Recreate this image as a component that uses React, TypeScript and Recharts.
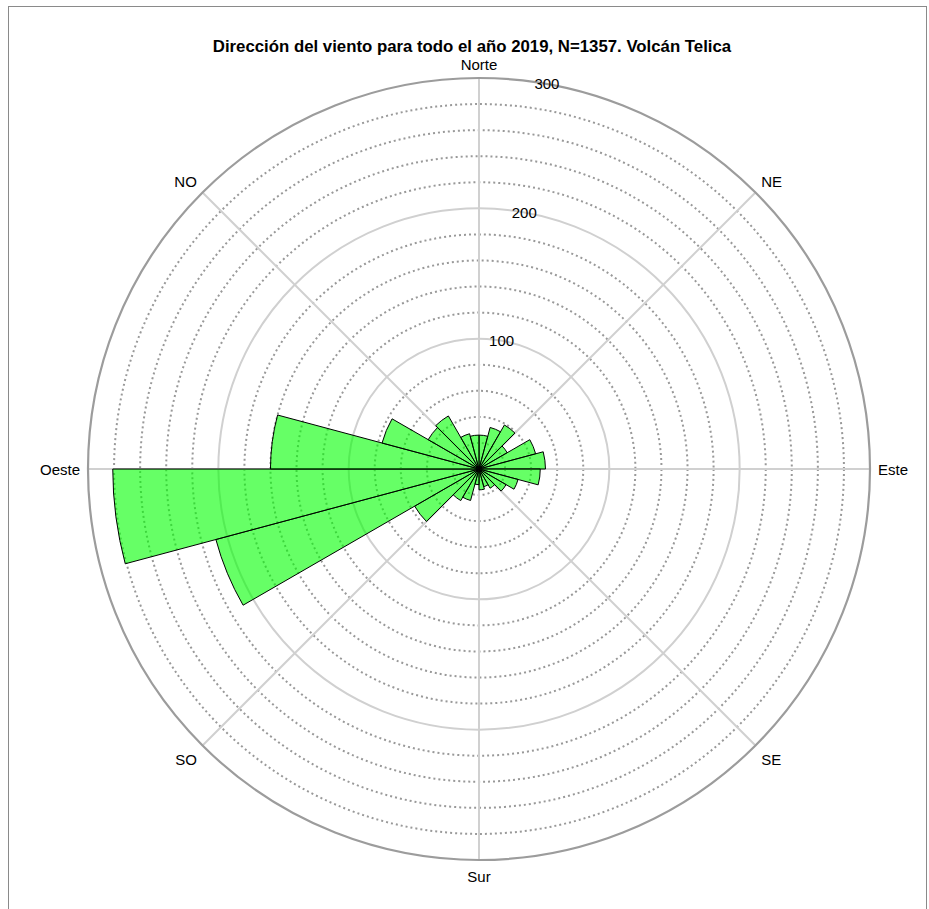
import React from 'react';
import {
  RadialBarChart, RadialBar, RadarChart, Radar, PolarGrid, PolarAngleAxis, PolarRadiusAxis
} from 'recharts';

/* ─── DATA ─────────────────────────────────────── */
// 15° bins, compass degrees (0 = Norte, clockwise)
const binStarts = [0, 15, 30, 45, 60, 75, 90, 105, 120, 135, 150, 165, 180, 195, 210, 225, 240, 255, 270, 285, 300, 315, 330, 345];
const counts = [26, 33, 39, 25, 45, 51, 47, 31, 24, 17, 14, 16, 12, 25, 28, 57, 209, 281, 160, 77, 45, 47, 28, 26];
const directions = ['Norte', 'NE', 'Este', 'SE', 'Sur', 'SO', 'Oeste', 'NO'];
const minorRings = [20, 40, 60, 80, 120, 140, 160, 180, 220, 240, 260, 280];
const majorRings = [100, 200];
const outerRing = [300];
const radiusLabels = [100, 200, 300];

const bins = binStarts.map((b, i) => ({ bin: String(b), count: counts[i] }));
const dirData = directions.map((d) => ({ dir: d, v: 0 }));

const W = 929;
const H = 909;
const CX = 479;
const CY = 469;
const R = 391;
const FONT = '"Liberation Sans", Arial, Helvetica, sans-serif';

const common = {
  width: W, height: H, cx: CX, cy: CY, innerRadius: 0, outerRadius: R,
  startAngle: 90, endAngle: -270, margin: { top: 0, right: 0, bottom: 0, left: 0 },
};
const layer: React.CSSProperties = { position: 'absolute', left: 0, top: 0 };

// compass labels sit just outside the outer ring, anchored like matlab does
const DirTick = (props: any) => {
  const { cx, cy, radius, payload } = props;
  const a = (-payload.coordinate * Math.PI) / 180;
  const cos = Math.cos(a);
  const sin = Math.sin(a);
  const x = cx + (radius + 8) * cos;
  const y = cy + (radius + 8) * sin;
  const anchor = cos > 0.01 ? 'start' : cos < -0.01 ? 'end' : 'middle';
  const base = sin < -0.01 ? 'auto' : sin > 0.01 ? 'hanging' : 'central';
  return (
    <text x={x} y={sin > 0.01 ? y + 3 : y} textAnchor={anchor} dominantBaseline={base} fontSize={15} fill="#000" fontFamily={FONT}>
      {payload.value}
    </text>
  );
};

const RadTick = ({ x, y, payload }: any) => (
  <text x={x} y={y} textAnchor="middle" dominantBaseline="central" fontSize={15} fill="#000" fontFamily={FONT}>
    {payload.value}
  </text>
);

/* ─── GRID LAYER ─────────────────────────────────────── */
const GridLayer = ({ rings, stroke, width, dash, radial }: any) => (
  <div style={layer}>
    <RadarChart {...common} data={dirData}>
      <PolarGrid gridType="circle" radialLines={radial} stroke={stroke} strokeWidth={width} strokeDasharray={dash} />
      <PolarAngleAxis dataKey="dir" axisLine={false} tickLine={false} tick={false} />
      <PolarRadiusAxis type="number" domain={[0, 300]} ticks={rings} axisLine={false} tick={false} />
      <Radar dataKey="v" stroke="none" fill="none" isAnimationActive={false} />
    </RadarChart>
  </div>
);

export default function App() {
  return (
    <div style={{ position: 'absolute', left: 0, top: 0, width: W, height: H, background: '#fff', overflow: 'hidden' }}>
      <div style={{ position: 'absolute', left: 8, top: 6, width: 917, height: 920, border: '1.5px solid #8a8a8a' }} />
      <div style={{ position: 'absolute', left: 0, top: 37, width: 944, textAlign: 'center', fontFamily: FONT, fontWeight: 700, fontSize: 16.8, lineHeight: '20px', color: '#000' }}>
        Dirección del viento para todo el año 2019, N=1357. Volcán Telica
      </div>

      <GridLayer rings={minorRings} stroke="#999" width={2} dash="2 3" radial={false} />
      <GridLayer rings={majorRings} stroke="#d0d0d0" width={2} radial={true} />

      {/* outer ring + compass labels */}
      <div style={layer}>
        <RadarChart {...common} data={dirData}>
          <PolarGrid gridType="circle" radialLines={false} stroke="#9c9c9c" strokeWidth={2.2} />
          <PolarAngleAxis dataKey="dir" axisLine={false} tickLine={false} tick={<DirTick />} />
          <PolarRadiusAxis type="number" domain={[0, 300]} ticks={outerRing} axisLine={false} tick={false} />
          <Radar dataKey="v" stroke="none" fill="none" isAnimationActive={false} />
        </RadarChart>
      </div>

      {/* rose bars: band scale puts bin 0 one step early, so start 15° later */}
      <div style={layer}>
        <RadialBarChart {...common} startAngle={75} endAngle={-285} data={bins} layout="centric" barCategoryGap={0} barGap={0}>
          <PolarAngleAxis type="category" dataKey="bin" axisLine={false} tick={false} />
          <PolarRadiusAxis type="number" domain={[0, 300]} axisLine={false} tick={false} />
          <RadialBar dataKey="count" fill="#00ff00" fillOpacity={0.6} stroke="#000" strokeWidth={1} isAnimationActive={false} />
        </RadialBarChart>
      </div>

      <div style={layer}>
        <RadarChart {...common} data={dirData}>
          <PolarAngleAxis dataKey="dir" axisLine={false} tick={false} />
          <PolarRadiusAxis type="number" domain={[0, 300]} ticks={radiusLabels} angle={80} axisLine={false} tickLine={false} tick={<RadTick />} />
          <Radar dataKey="v" stroke="none" fill="none" isAnimationActive={false} />
        </RadarChart>
      </div>
    </div>
  );
}
